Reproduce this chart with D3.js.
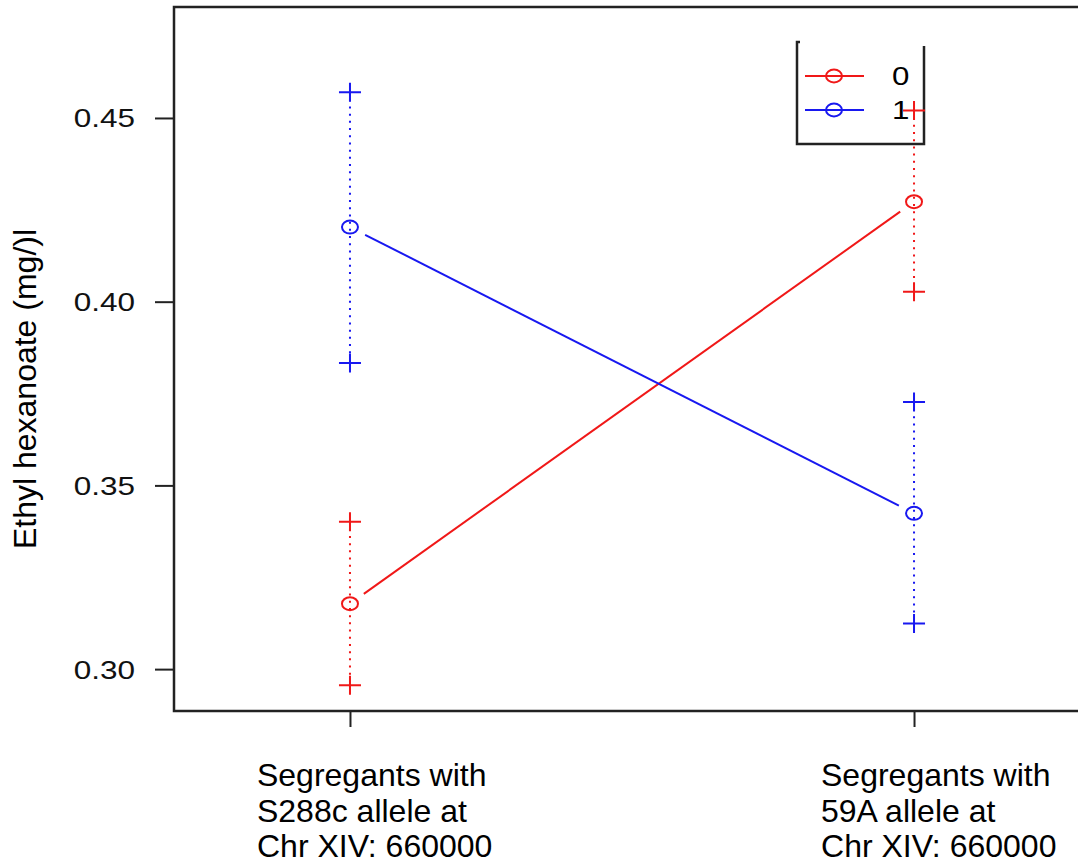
<!DOCTYPE html>
<html>
<head>
<meta charset="utf-8">
<script src="https://cdn.jsdelivr.net/npm/d3@7"></script>
<style>
  body { margin: 0; background: #fff; }
  svg { display: block; font-family: "Liberation Sans", Arial, sans-serif; }
</style>
</head>
<body>
<svg id="chart" width="1078" height="863"></svg>
<script>
// categories on the x axis (multi-line labels)
const categories = [
  ['Segregants with', 'S288c allele at', 'Chr XIV: 660000'],
  ['Segregants with', '59A allele at', 'Chr XIV: 660000']
];
const groups = ['0', '1'];
const groupColors = ['#f01818', '#1818f0'];

// group 0 (red) mean and interval ends
const mean0  = [0.3178, 0.4272];
const upper0 = [0.3401, 0.4520];
const lower0 = [0.2956, 0.4027];

// group 1 (blue)
const mean1  = [0.4203, 0.3424];
const upper1 = [0.4570, 0.3727];
const lower1 = [0.3833, 0.3124];

const yTicks = [0.30, 0.35, 0.40, 0.45];
const yLabel = 'Ethyl hexanoate (mg/)l';

const series = [
  { name: groups[0], color: groupColors[0], mean: mean0, upper: upper0, lower: lower0 },
  { name: groups[1], color: groupColors[1], mean: mean1, upper: upper1, lower: lower1 }
];

const svg = d3.select('#chart');
const box = { left: 174, right: 1090, top: 7, bottom: 711 };

// scales
const x = d3.scaleLinear().domain([0.688, 2.312]).range([box.left, box.right]);
const y = d3.scaleLinear().domain([0.2886, 0.4802]).range([box.bottom, box.top]);

const axisColor = '#222';

// y axis
const yAxis = svg.append('g')
  .attr('transform', `translate(${box.left},0)`)
  .call(d3.axisLeft(y).tickValues(yTicks).tickFormat(d3.format('.2f')).tickSize(19).tickPadding(20));
yAxis.select('.domain').remove();
yAxis.selectAll('line').attr('stroke', axisColor).attr('stroke-width', 2);
yAxis.selectAll('text')
  .attr('fill', '#111')
  .style('font-size', '25px')
  .attr('x', -39 / 1.26)
  .attr('dy', '0.36em')
  .attr('transform', 'scale(1.26,1)');

// x axis ticks
const xAxis = svg.append('g')
  .attr('transform', `translate(0,${box.bottom})`)
  .call(d3.axisBottom(x).tickValues([1, 2]).tickFormat('').tickSize(16));
xAxis.select('.domain').remove();
xAxis.selectAll('line').attr('stroke', axisColor).attr('stroke-width', 2);

// x labels, left aligned, three lines each
categories.forEach((lines, i) => {
  const lx = x(i + 1) - 93;
  const t = svg.append('text')
    .attr('x', lx)
    .attr('y', 786)
    .attr('fill', '#000')
    .style('font-size', '32px');
  lines.forEach((ln, j) => {
    t.append('tspan').attr('x', lx).attr('dy', j === 0 ? 0 : 35.5).text(ln);
  });
});

// y label
svg.append('text')
  .attr('transform', `translate(36,${(box.top + box.bottom) / 2 + 30}) rotate(-90)`)
  .attr('text-anchor', 'middle')
  .attr('fill', '#000')
  .style('font-size', '32px')
  .text(yLabel);

// plot box
svg.append('rect')
  .attr('x', box.left).attr('y', box.top)
  .attr('width', box.right - box.left).attr('height', box.bottom - box.top)
  .attr('fill', 'none').attr('stroke', axisColor).attr('stroke-width', 2.5);

// legend (drawn before the data, no fill)
const lg = svg.append('g');
lg.append('path')
  .attr('d', 'M800,42 L797,42 L797,144 L924,144 L924,46')
  .attr('fill', 'none').attr('stroke', axisColor).attr('stroke-width', 2.5);
series.forEach((s, i) => {
  const ly = 76 + i * 34;
  lg.append('line').attr('x1', 805).attr('x2', 864).attr('y1', ly).attr('y2', ly)
    .attr('stroke', s.color).attr('stroke-width', 2);
  lg.append('ellipse').attr('cx', 834).attr('cy', ly).attr('rx', 8).attr('ry', 6.5)
    .attr('fill', 'none').attr('stroke', s.color).attr('stroke-width', 2);
  lg.append('text').attr('x', 892 / 1.25).attr('y', ly).attr('dy', '0.36em')
    .attr('transform', 'scale(1.25,1)')
    .attr('fill', '#000').style('font-size', '25px').text(s.name);
});

// data
const gap = 17;
series.forEach(s => {
  const g = svg.append('g');
  const pts = s.mean.map((m, i) => [x(i + 1), y(m)]);

  // connecting segments with gaps at the points
  for (let i = 0; i < pts.length - 1; i++) {
    const [x1, y1] = pts[i], [x2, y2] = pts[i + 1];
    const len = Math.hypot(x2 - x1, y2 - y1);
    const ux = (x2 - x1) / len, uy = (y2 - y1) / len;
    g.append('line')
      .attr('x1', x1 + ux * gap).attr('y1', y1 + uy * gap)
      .attr('x2', x2 - ux * gap).attr('y2', y2 - uy * gap)
      .attr('stroke', s.color).attr('stroke-width', 2);
  }

  s.mean.forEach((m, i) => {
    const cx = x(i + 1);
    // dotted interval
    g.append('line')
      .attr('x1', cx).attr('x2', cx)
      .attr('y1', y(s.upper[i]) + 7).attr('y2', y(s.lower[i]) - 7)
      .attr('stroke', s.color).attr('stroke-width', 2)
      .attr('stroke-dasharray', '2,5.2');
    // mean marker
    g.append('ellipse').attr('cx', cx).attr('cy', y(m)).attr('rx', 8).attr('ry', 6.5)
      .attr('fill', 'none').attr('stroke', s.color).attr('stroke-width', 2);
    // interval end markers
    [s.upper[i], s.lower[i]].forEach(v => {
      const py = y(v);
      g.append('path')
        .attr('d', `M${cx - 11},${py} H${cx + 11} M${cx},${py - 9.5} V${py + 9.5}`)
        .attr('stroke', s.color).attr('stroke-width', 2).attr('fill', 'none');
    });
  });
});
</script>
</body>
</html>
